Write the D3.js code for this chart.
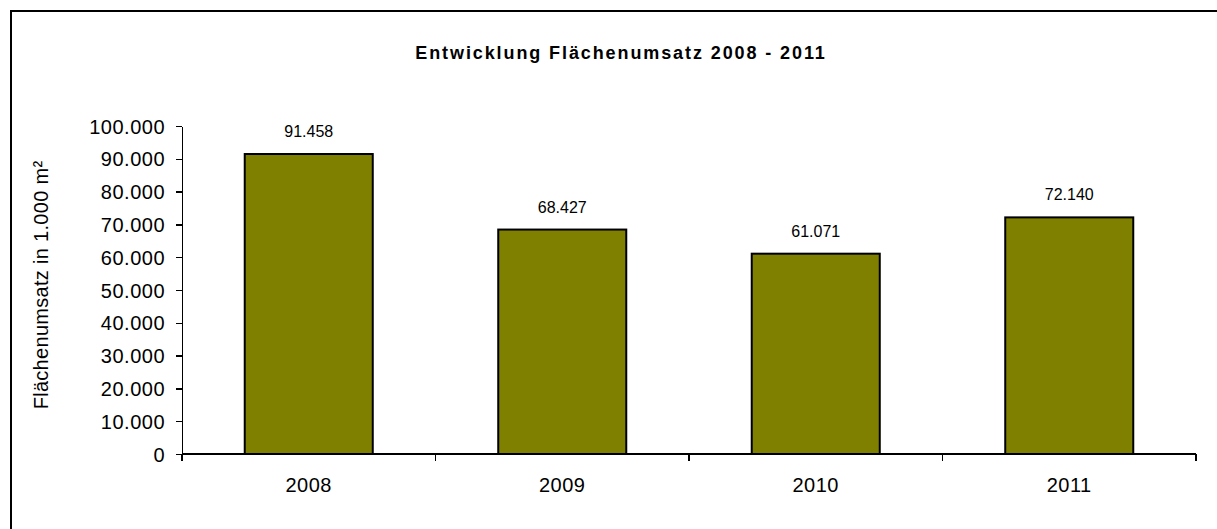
<!DOCTYPE html>
<html>
<head>
<meta charset="utf-8">
<script src="https://d3js.org/d3.v7.min.js"></script>
<style>
  body { margin: 0; background: #fff; }
  svg { display: block; font-family: "Liberation Sans", Arial, sans-serif; }
  .axis path, .axis line { stroke: #000; stroke-width: 1.5; shape-rendering: crispEdges; }
  .axis text { fill: #000; }
</style>
</head>
<body>
<div id="chart"></div>
<script>
const years = ['2008', '2009', '2010', '2011'];
const values = [91458, 68427, 61071, 72140];
const yTicks = [0, 10000, 20000, 30000, 40000, 50000, 60000, 70000, 80000, 90000, 100000];

const width = 1217;
const height = 529;
const plot = { left: 182, right: 1196, top: 126, bottom: 454 };

const fmt = function(v) {
  return d3.format(',')(v).replace(/,/g, '.');
};

const svg = d3.select('#chart')
  .append('svg')
  .attr('width', width)
  .attr('height', height);

// outer chart frame (runs off the right and bottom edge)
svg.append('rect')
  .attr('x', 11)
  .attr('y', 11)
  .attr('width', width + 20)
  .attr('height', height + 20)
  .style('fill', 'none')
  .style('stroke', '#000')
  .style('stroke-width', 2);

const xScale = d3.scaleBand()
  .domain(years)
  .range([plot.left, plot.right])
  .paddingInner(0.495)
  .paddingOuter(0.2475);

const yScale = d3.scaleLinear()
  .domain([0, 100000])
  .range([plot.bottom, plot.top]);

// y axis
const yAxis = d3.axisLeft(yScale)
  .tickValues(yTicks)
  .tickFormat(fmt)
  .tickSizeInner(6)
  .tickSizeOuter(0)
  .tickPadding(11);

svg.append('g')
  .attr('class', 'axis yAxis')
  .attr('transform', 'translate(' + plot.left + ',0)')
  .call(yAxis)
  .selectAll('text')
  .style('font-size', '20px')
  .style('letter-spacing', '0.5px')
  .attr('dy', '0.35em');

// bars
svg.selectAll('rect.bar')
  .data(values)
  .enter()
  .append('rect')
  .attr('class', 'bar')
  .attr('x', function(d, i) { return xScale(years[i]); })
  .attr('y', function(d) { return yScale(d); })
  .attr('width', xScale.bandwidth())
  .attr('height', function(d) { return yScale(0) - yScale(d); })
  .style('fill', '#808000')
  .style('stroke', '#000')
  .style('stroke-width', 2);

// x axis: line with ticks between categories
const xg = svg.append('g').attr('class', 'axis xAxis');
xg.append('line')
  .attr('x1', plot.left)
  .attr('x2', plot.right)
  .attr('y1', plot.bottom)
  .attr('y2', plot.bottom);

const boundaries = [xScale(years[0]) - xScale.step() * xScale.paddingOuter()]
  .concat(years.map(function(y) {
    return xScale(y) + xScale.bandwidth() + xScale.step() * xScale.paddingInner() / 2;
  }));
boundaries[boundaries.length - 1] = plot.right;

xg.selectAll('line.tick')
  .data(boundaries)
  .enter()
  .append('line')
  .attr('class', 'tick')
  .attr('x1', function(d) { return d; })
  .attr('x2', function(d) { return d; })
  .attr('y1', plot.bottom)
  .attr('y2', plot.bottom + 7);

xg.selectAll('text.cat')
  .data(years)
  .enter()
  .append('text')
  .attr('class', 'cat')
  .text(function(d) { return d; })
  .attr('x', function(d) { return xScale(d) + xScale.bandwidth() / 2; })
  .attr('y', 492)
  .style('text-anchor', 'middle')
  .style('font-size', '20px')
  .style('letter-spacing', '0.5px');

// value labels
svg.selectAll('text.valueLabel')
  .data(values)
  .enter()
  .append('text')
  .attr('class', 'valueLabel')
  .text(fmt)
  .attr('x', function(d, i) { return xScale(years[i]) + xScale.bandwidth() / 2; })
  .attr('y', function(d) { return yScale(d) - 17; })
  .style('text-anchor', 'middle')
  .style('font-size', '16px');

// y axis title
svg.append('text')
  .text('Flächenumsatz in 1.000 m²')
  .attr('transform', 'translate(48,285) rotate(-90)')
  .style('text-anchor', 'middle')
  .style('font-size', '20px')
  .style('letter-spacing', '0.3px');

// headline
svg.append('text')
  .text('Entwicklung Flächenumsatz 2008 - 2011')
  .attr('x', 621)
  .attr('y', 59)
  .style('text-anchor', 'middle')
  .style('font-size', '18px')
  .style('font-weight', 'bold')
  .style('letter-spacing', '1.9px');
</script>
</body>
</html>
